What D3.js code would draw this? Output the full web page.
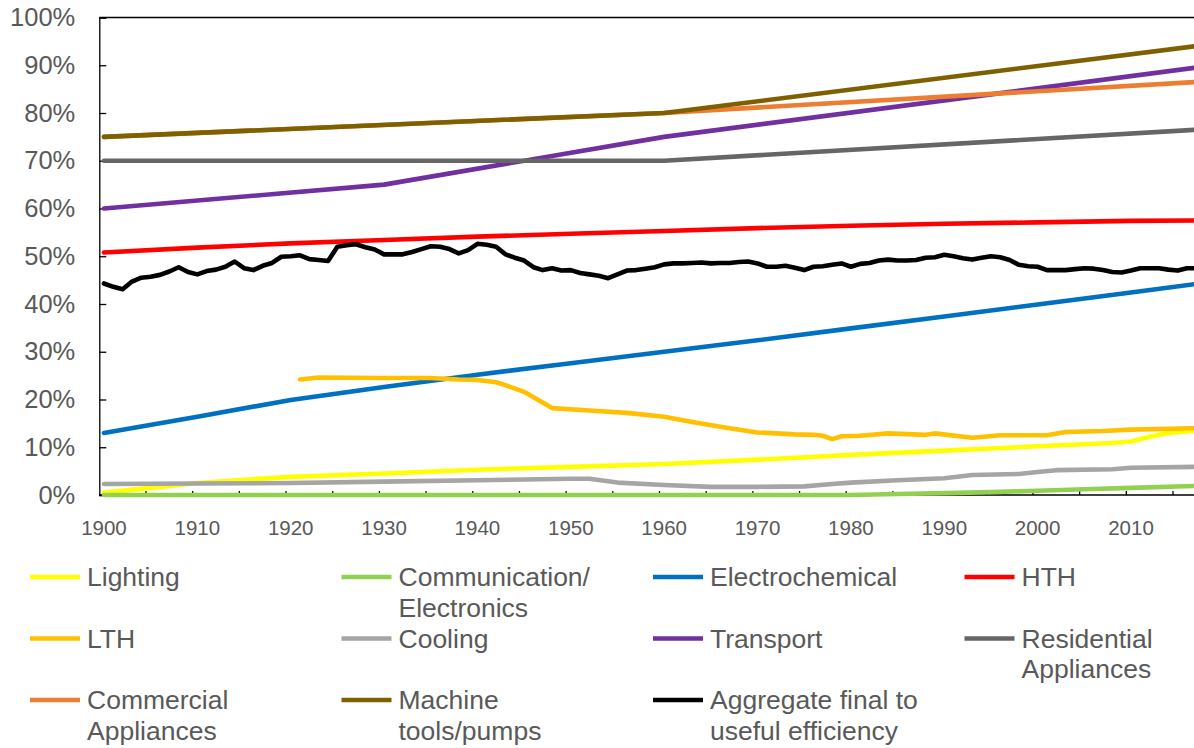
<!DOCTYPE html>
<html>
<head>
<meta charset="utf-8">
<script src="https://cdn.jsdelivr.net/npm/d3@7"></script>
<style>
  html, body { margin: 0; padding: 0; background: #fff; }
  svg { display: block; }
  text { font-family: "Liberation Sans", Arial, sans-serif; fill: #595959; }
</style>
</head>
<body>
<svg id="chart" width="1194" height="748"></svg>
<script>
// ---------------- DATA ----------------
const seriesNames = ["Lighting", "Communication/Electronics", "Electrochemical", "HTH", "LTH", "Cooling",
  "Transport", "Residential Appliances", "Commercial Appliances", "Machine tools/pumps", "Aggregate final to useful efficiency"];
const seriesColors = ["#FFFF00", "#92D050", "#0070C0", "#FF0000", "#FFC000", "#A5A5A5",
  "#7030A0", "#666666", "#ED7D31", "#7F6000", "#000000"];

const lightingYears = [1900,1905,1910,1915,1920,1930,1940,1950,1960,1970,1980,1990,2000,2008,2010,2012,2014,2017];
const lightingValues = [0.5,1.5,2.5,3.2,3.8,4.5,5.3,5.9,6.5,7.4,8.4,9.3,10.2,10.9,11.2,12.2,13.0,13.5];

const commYears = [1900,1980,1985,1990,1995,2000,2005,2010,2017];
const commValues = [0,0,0.2,0.4,0.6,0.9,1.2,1.5,1.9];

const electroYears = [1900,1910,1920,1930,1940,1950,1960,1970,1980,1990,2000,2010,2017];
const electroValues = [13,16.4,19.9,22.6,25.2,27.6,30,32.4,34.9,37.4,39.9,42.4,44.2];

const hthYears = [1900,1910,1920,1930,1940,1950,1960,1970,1980,1990,2000,2010,2017];
const hthValues = [50.8,51.8,52.7,53.4,54.1,54.7,55.3,55.9,56.4,56.8,57.1,57.4,57.5];

const lthYears = [1921,1923,1930,1935,1938,1940,1942,1943,1945,1948,1952,1956,1960,1963,1967,1970,1974,1976,1977,1978,1979,1981,1984,1988,1989,1993,1996,2001,2003,2007,2010,2017];
const lthValues = [24.2,24.6,24.5,24.5,24.2,24.1,23.6,23.0,21.6,18.2,17.7,17.2,16.4,15.3,14.0,13.1,12.7,12.6,12.4,11.7,12.3,12.4,12.9,12.6,12.9,12.0,12.5,12.5,13.2,13.4,13.7,14.0];

const coolYears = [1900,1910,1920,1930,1940,1950,1952,1955,1960,1965,1970,1975,1978,1980,1985,1990,1993,1998,2000,2002,2008,2010,2017];
const coolValues = [2.3,2.4,2.5,2.8,3.1,3.4,3.4,2.6,2.1,1.7,1.7,1.8,2.3,2.6,3.1,3.5,4.2,4.4,4.8,5.2,5.4,5.7,5.9];

const transportYears = [1900,1930,1960,2017];
const transportValues = [60,65,75,89.5];

const residentialYears = [1900,1960,2017];
const residentialValues = [70,70,76.5];

const commercialYears = [1900,1960,2017];
const commercialValues = [75,80,86.5];

const machineYears = [1900,1960,2017];
const machineValues = [75,80,94];

const aggregateStartYear = 1900;
const aggregateValues = [
  44.3,43.6,43.1,44.7,45.5,45.7,46.1,46.8,47.7,46.7,
  46.2,46.9,47.2,47.8,48.9,47.5,47.1,48.0,48.6,49.9,
  50.0,50.2,49.4,49.2,49.0,52.0,52.3,52.5,51.9,51.4,
  50.4,50.4,50.4,50.9,51.5,52.1,52.0,51.5,50.6,51.3,
  52.6,52.4,52.0,50.4,49.7,49.1,47.7,47.1,47.5,47.0,
  47.1,46.5,46.2,45.9,45.4,46.2,47.0,47.1,47.4,47.7,
  48.3,48.5,48.5,48.6,48.7,48.5,48.6,48.6,48.8,48.9,
  48.5,47.8,47.8,48.0,47.6,47.1,47.8,47.9,48.2,48.5,
  47.8,48.4,48.6,49.1,49.3,49.1,49.1,49.2,49.7,49.8,
  50.3,50.0,49.6,49.3,49.7,50.0,49.8,49.2,48.2,47.9,
  47.8,47.1,47.1,47.1,47.3,47.5,47.4,47.1,46.7,46.6,
  47.0,47.5,47.5,47.5,47.2,47.0,47.5,47.5
];

const yTickValues = [0,10,20,30,40,50,60,70,80,90,100];
const xLabelYears = [1900,1910,1920,1930,1940,1950,1960,1970,1980,1990,2000,2010];

const legendLabels = [
  ["Lighting"], ["Communication/", "Electronics"], ["Electrochemical"], ["HTH"],
  ["LTH"], ["Cooling"], ["Transport"], ["Residential", "Appliances"],
  ["Commercial", "Appliances"], ["Machine", "tools/pumps"], ["Aggregate final to", "useful efficiency"]
];

// ---------------- BUILD ----------------
const zip = (ys, vs) => ys.map((y, i) => ({year: y, value: vs[i]}));
const seriesData = [
  zip(lightingYears, lightingValues),
  zip(commYears, commValues),
  zip(electroYears, electroValues),
  zip(hthYears, hthValues),
  zip(lthYears, lthValues),
  zip(coolYears, coolValues),
  zip(transportYears, transportValues),
  zip(residentialYears, residentialValues),
  zip(commercialYears, commercialValues),
  zip(machineYears, machineValues),
  aggregateValues.map((v, i) => ({year: aggregateStartYear + i, value: v}))
];

const svg = d3.select("#chart");
const plotLeft = 99.3, plotRight = 1201, plotTop = 17.5, plotBottom = 495;

const x = d3.scaleLinear().domain([1899.5, 2017.5]).range([plotLeft, plotRight]);
const y = d3.scaleLinear().domain([0, 100]).range([plotBottom, plotTop]);

// frame: top border
svg.append("line")
  .attr("x1", plotLeft).attr("x2", plotRight)
  .attr("y1", plotTop).attr("y2", plotTop)
  .attr("stroke", "#000").attr("stroke-width", 1.3);

// Y axis
const yAxis = d3.axisLeft(y).tickValues(yTickValues).tickSize(-7).tickFormat(d => d + "%").tickPadding(24);
const gy = svg.append("g").attr("transform", `translate(${plotLeft},0)`).call(yAxis);
gy.select(".domain").attr("stroke", "#000").attr("stroke-width", 1.3);
gy.selectAll(".tick line").attr("stroke", "#000").attr("stroke-width", 1.3);
gy.selectAll(".tick text")
  .attr("font-size", 25.5)
  .attr("fill", "#595959")
  .style("font-family", '"Liberation Sans", Arial, sans-serif');

// X axis: ticks at category boundaries every 5 years, labels at category centers
const boundaryTicks = d3.range(1904.5, 2017.6, 5);
const gx = svg.append("g").attr("transform", `translate(0,${plotBottom})`);
gx.append("line")
  .attr("x1", plotLeft).attr("x2", plotRight)
  .attr("y1", 0).attr("y2", 0)
  .attr("stroke", "#000").attr("stroke-width", 1.3);
gx.selectAll("line.tk").data(boundaryTicks).join("line")
  .attr("class", "tk")
  .attr("x1", d => x(d)).attr("x2", d => x(d))
  .attr("y1", 0).attr("y2", -4)
  .attr("stroke", "#000").attr("stroke-width", 1.3);
gx.selectAll("text.xl").data(xLabelYears).join("text")
  .attr("class", "xl")
  .attr("x", d => x(d))
  .attr("y", 40)
  .attr("text-anchor", "middle")
  .attr("font-size", 20.5)
  .text(d => d);

// lines (drawn over the axes, as in the reference)
const line = d3.line().x(d => x(d.year)).y(d => y(d.value));
const gLines = svg.append("g");
seriesData.forEach((data, i) => {
  gLines.append("path")
    .attr("d", line(data))
    .attr("fill", "none")
    .attr("stroke", seriesColors[i])
    .attr("stroke-width", 4.6)
    .attr("stroke-linejoin", "round")
    .attr("stroke-linecap", "round");
});

// Legend
const legCol0 = 30, legColStep = 311.5, legRow0 = 577, legRowStep = 61.5, legLineH = 30.5;
const gLeg = svg.append("g");
legendLabels.forEach((lines, i) => {
  const col = i % 4, row = Math.floor(i / 4);
  const lx = legCol0 + col * legColStep, ly = legRow0 + row * legRowStep;
  gLeg.append("line")
    .attr("x1", lx).attr("x2", lx + 50)
    .attr("y1", ly).attr("y2", ly)
    .attr("stroke", seriesColors[i]).attr("stroke-width", 4.6);
  const t = gLeg.append("text")
    .attr("x", lx + 57).attr("y", ly + 9)
    .attr("font-size", 26.5);
  lines.forEach((s, k) => {
    t.append("tspan").attr("x", lx + 57).attr("y", ly + 9 + k * legLineH).text(s);
  });
});
</script>
</body>
</html>
